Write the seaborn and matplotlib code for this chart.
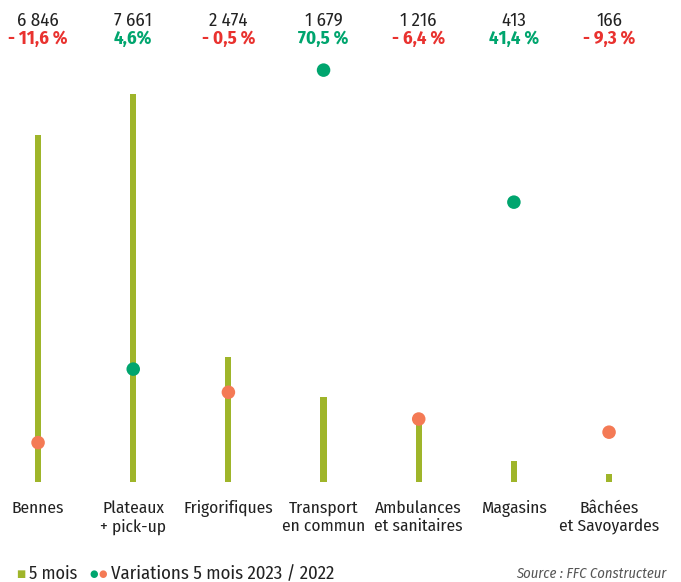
import numpy as np
import pandas as pd
import seaborn as sns
import matplotlib.pyplot as plt
import matplotlib.transforms as mtransforms

# data
categories = ["Bennes", "Plateaux\n+ pick-up", "Frigorifiques", "Transport\nen commun",
              "Ambulances\net sanitaires", "Magasins", "Bâchées\net Savoyardes"]
volumes = [6846, 7661, 2474, 1679, 1216, 413, 166]
variations = [-11.6, 4.6, -0.5, 70.5, -6.4, 41.4, -9.3]
volume_labels = ["6 846", "7 661", "2 474", "1 679", "1 216", "413", "166"]
variation_labels = ["- 11,6 %", "4,6%", "- 0,5 %", "70,5 %", "- 6,4 %", "41,4 %", "- 9,3 %"]

OLIVE = "#9fb52a"
GREEN = "#00a56e"
ORANGE = "#f47a55"
RED = "#e9322f"
DARK = "#222222"

sns.set_theme(style="white")
plt.rcParams["font.family"] = ["Fira Sans Condensed", "DejaVu Sans"]

df = pd.DataFrame({"cat": categories, "vol": volumes, "var": variations})
df["pos"] = np.arange(len(df))
df["sign"] = np.where(df["var"] >= 0, "up", "down")

fig = plt.figure(figsize=(6.81, 5.82), dpi=100)
ax = fig.add_axes([0, 100 / 582, 1, 422 / 582])

sns.barplot(data=df, x="cat", y="vol", width=0.065, color=OLIVE, saturation=1,
            linewidth=0, ax=ax)
ax.set_xlim(-0.4, 6.756)
ax.set_ylim(0, 8332)

ax2 = ax.twinx()
sns.scatterplot(data=df, x="pos", y="var", hue="sign", palette={"up": GREEN, "down": ORANGE},
                s=95, edgecolor="none", legend=False, ax=ax2, zorder=5)
ax2.set_ylim(-20.28, 72.73)

for a in (ax, ax2):
    a.set_ylabel("")
    a.set_xlabel("")
    a.set_yticks([])
    for sp in a.spines.values():
        sp.set_visible(False)

ax.set_xticks(range(len(categories)))
ax.set_xticklabels(categories, fontsize=12.5, color=DARK, linespacing=1.2)
ax.tick_params(axis="x", length=0, pad=13)

# values on top
trans = mtransforms.blended_transform_factory(ax.transData, fig.transFigure)
for i, (vl, pl, v) in enumerate(zip(volume_labels, variation_labels, variations)):
    ax.text(i, 1 - 21 / 582, vl, transform=trans, ha="center", va="center",
            fontsize=13.5, color=DARK)
    ax.text(i, 1 - 39 / 582, pl, transform=trans, ha="center", va="center",
            fontsize=13.5, fontweight="bold", color=GREEN if v >= 0 else RED)

# legend row
y_leg = 1 - 574 / 582
fig.text(16 / 681, y_leg, "■", color=OLIVE, fontsize=7, va="center",
         family=["DejaVu Sans"])
fig.text(29 / 681, y_leg, "5 mois", color=DARK, fontsize=13, va="center")
fig.text(89 / 681, y_leg, "●", color=GREEN, fontsize=7, va="center", family=["DejaVu Sans"])
fig.text(98 / 681, y_leg, "●", color=ORANGE, fontsize=7, va="center", family=["DejaVu Sans"])
fig.text(111 / 681, y_leg, "Variations 5 mois 2023 / 2022", color=DARK, fontsize=13.5,
         va="center")
fig.text(666 / 681, y_leg, "Source : FFC Constructeur", color="#555555", fontsize=10.5,
         style="italic", ha="right", va="center")

fig.savefig("out.png", dpi=100)
